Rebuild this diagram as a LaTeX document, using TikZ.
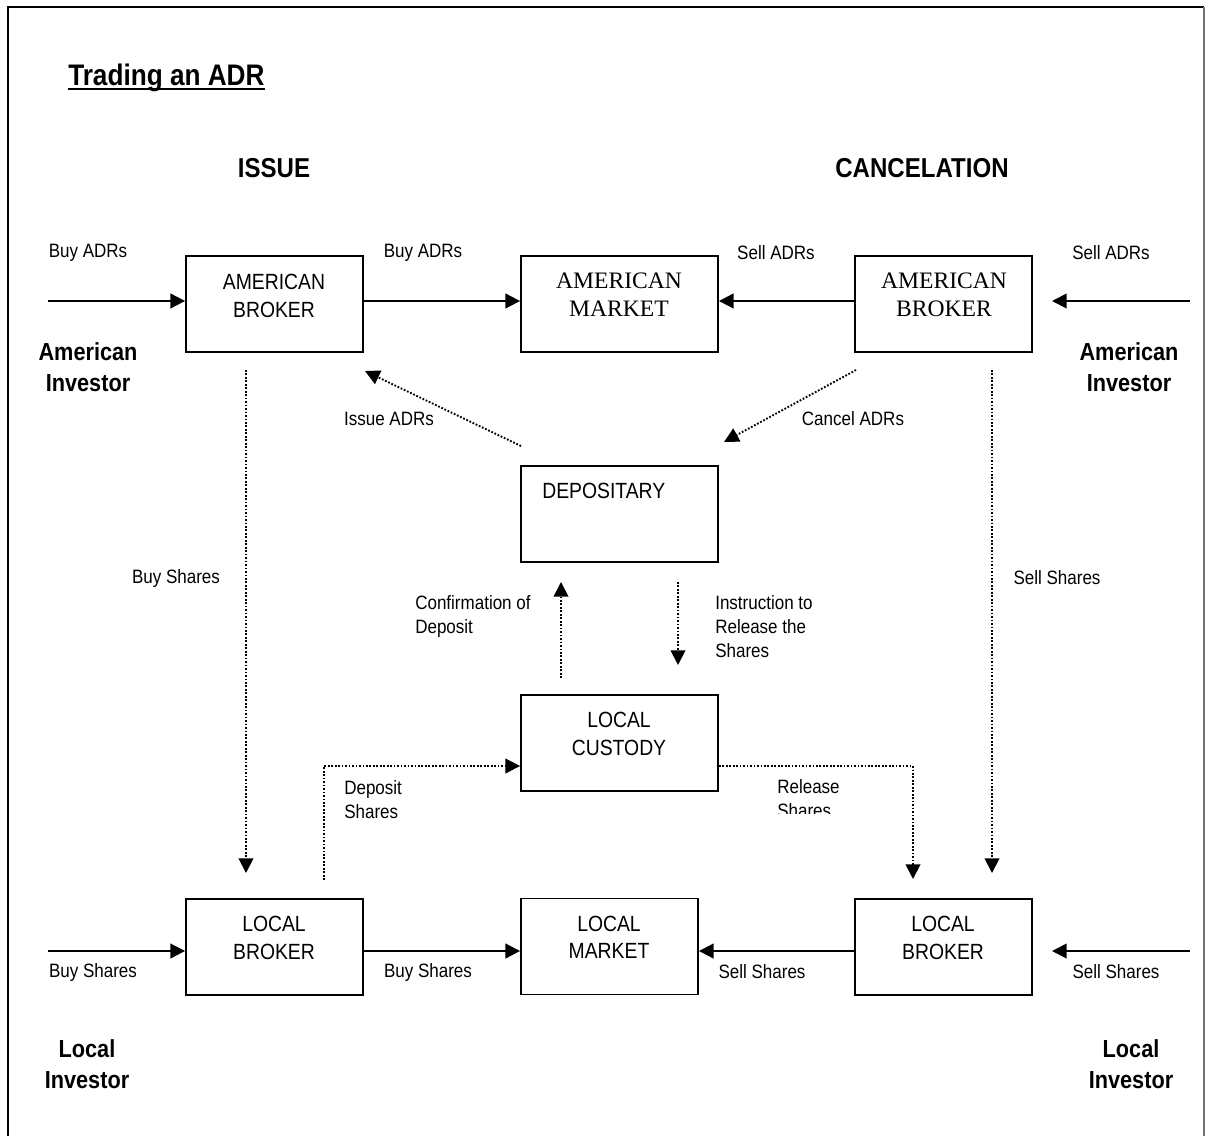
\documentclass[tikz,border=0pt]{standalone}
\usepackage{fontspec}
\setmainfont{Liberation Sans}[FakeStretch=0.88]
\newfontfamily\serifcaja{Liberation Serif}
\usetikzlibrary{arrows.meta, positioning}
\tikzset{
    caja/.style={draw, minimum width=132.75pt, minimum height=72pt, inner sep=0pt, line width=1.4pt},
    cajaancha/.style={caja, minimum width=147.75pt},
    txtcaja/.style={align=center, inner sep=0pt, font=\fontsize{16.5}{20.5}\selectfont},
    txtserif/.style={align=center, inner sep=0pt, font=\serifcaja\fontsize{17.7}{21}\selectfont},
    etiqueta/.style={align=left, inner sep=0pt, font=\fontsize{14.5}{18}\selectfont},
    inversor/.style={align=center, inner sep=0pt, font=\bfseries\fontsize{18.5}{23.5}\selectfont},
    seccion/.style={inner sep=0pt, font=\bfseries\fontsize{20.5}{24}\selectfont},
    flecha/.style={line width=1.5pt, -{Triangle[length=11pt, width=11pt]}},
    punteada/.style={line width=1.4pt, dash pattern=on 1.3pt off 1.3pt, -{Triangle[length=11pt, width=11pt]}},
}

\begin{document}
\begin{tikzpicture}[x=0.75pt, y=-0.75pt]
\useasboundingbox (0,0) rectangle (1209,1135);

% Marco
\draw[line width=1.5pt] (8,1140) -- (8,7) -- (1204,7);
\draw[line width=1pt, black!55] (1204,7) -- (1204,1140);

% Titulos
\node[inner sep=0pt, anchor=base west, font=\bfseries\fontsize{22.3}{26}\selectfont] (titulo) at (68,85) {Trading an ADR};
\draw[line width=1.4pt] ([yshift=-3pt]titulo.base west) -- ([yshift=-3pt]titulo.base east);
\node[seccion] (issue) at (274,168) {ISSUE};
\node[seccion] (cancel) at (922,168) {CANCELATION};

% Cajas
\node[caja] (abL) at (274.5,304) {};
\node[cajaancha] (am)  at (619.5,304) {};
\node[caja] (abR) at (943.5,304) {};
\node[cajaancha] (dep) at (619.5,514) {};
\node[cajaancha] (lc)  at (619.5,743) {};
\node[caja] (lbL) at (274.5,947) {};
\node[caja] (lm)  at (609.5,946.5) {};
\node[caja] (lbR) at (943.5,947) {};

% Textos de las cajas
\node[txtcaja] (abLt) at (274,296) {AMERICAN\\BROKER};
\node[txtserif] (amt) at (619,295) {AMERICAN\\MARKET};
\node[txtserif] (abRt) at (944,295) {AMERICAN\\BROKER};
\node[txtcaja, anchor=west] (dept) at (542,491) {DEPOSITARY};
\node[txtcaja] (lct) at (619,734) {LOCAL\\CUSTODY};
\node[txtcaja] (lbLt) at (274,938) {LOCAL\\BROKER};
\node[txtcaja] (lmt) at (609,937) {LOCAL\\MARKET};
\node[txtcaja] (lbRt) at (943,938) {LOCAL\\BROKER};

% Inversores
\node[inversor] (aiL) at (88,367) {American\\Investor};
\node[inversor] (aiR) at (1129,367) {American\\Investor};
\node[inversor] (liL) at (87,1064) {Local\\Investor};
\node[inversor] (liR) at (1131,1064) {Local\\Investor};

% Extremos libres
\coordinate (aiLs) at (48,301);
\coordinate (aiRs) at (1190,301);
\coordinate (aiRe) at (1052,301);
\coordinate (liLs) at (48,951);
\coordinate (liRs) at (1190,951);
\coordinate (liRe) at (1052,951);
\coordinate (bsA) at (246,370);
\coordinate (bsB) at (246,873);
\coordinate (ssA) at (992,370);
\coordinate (ssB) at (992,873);
\coordinate (isA) at (521,446);
\coordinate (isB) at (365,371);
\coordinate (caA) at (856,370);
\coordinate (caB) at (724,442);
\coordinate (coA) at (561,678);
\coordinate (coB) at (561,582);
\coordinate (inA) at (678,582);
\coordinate (inB) at (678,665);
\coordinate (dsA) at (324,880);
\coordinate (rsB) at (913,879);

% Flechas continuas
\draw[flecha] (aiLs) -- ([yshift=2.25pt]abL.west);
\draw[flecha] ([yshift=2.25pt]abL.east) -- ([yshift=2.25pt]am.west);
\draw[flecha] ([yshift=2.25pt]abR.west) -- ([yshift=2.25pt]am.east);
\draw[flecha] (aiRs) -- (aiRe);
\draw[flecha] (liLs) -- ([yshift=-3pt]lbL.west);
\draw[flecha] ([yshift=-3pt]lbL.east) -- ([yshift=-3pt]lbL.east -| lm.west);
\draw[flecha] ([yshift=-3pt]lbR.west) -- ([yshift=-3pt]lbR.west -| lm.east);
\draw[flecha] (liRs) -- (liRe);

% Flechas punteadas
\draw[punteada] (bsA) -- (bsB);
\draw[punteada] (ssA) -- (ssB);
\draw[punteada] (isA) -- (isB);
\draw[punteada] (caA) -- (caB);
\draw[punteada] (coA) -- (coB);
\draw[punteada] (inA) -- (inB);
\draw[punteada] (dsA) |- ([yshift=-17.25pt]lc.west);
\draw[punteada] ([yshift=-17.25pt]lc.east) -| (rsB);

% Etiquetas
\node[etiqueta] (e1) at (88,253) {Buy ADRs};
\node[etiqueta] (e2) at (423,253) {Buy ADRs};
\node[etiqueta] (e3) at (776,253) {Sell ADRs};
\node[etiqueta] (e4) at (1111,253) {Sell ADRs};
\node[etiqueta] (e5) at (389,419) {Issue ADRs};
\node[etiqueta] (e6) at (853,419) {Cancel ADRs};
\node[etiqueta] (e7) at (176,578) {Buy Shares};
\node[etiqueta] (e8) at (1057,578) {Sell Shares};
\node[etiqueta, anchor=west] (e9) at (415,616) {Confirmation of\\Deposit};
\node[etiqueta, anchor=west] (e10) at (715,627) {Instruction to\\Release the\\Shares};
\node[etiqueta, anchor=west] (e11) at (344,800) {Deposit\\Shares};
\begin{scope}
\clip (760,770) rectangle (870,813);
\node[etiqueta, anchor=west] (e12) at (777,799) {Release\\Shares};
\end{scope}
\node[etiqueta] (e13) at (93,972) {Buy Shares};
\node[etiqueta] (e14) at (428,972) {Buy Shares};
\node[etiqueta] (e15) at (762,972) {Sell Shares};
\node[etiqueta] (e16) at (1116,972) {Sell Shares};

\end{tikzpicture}
\end{document}
